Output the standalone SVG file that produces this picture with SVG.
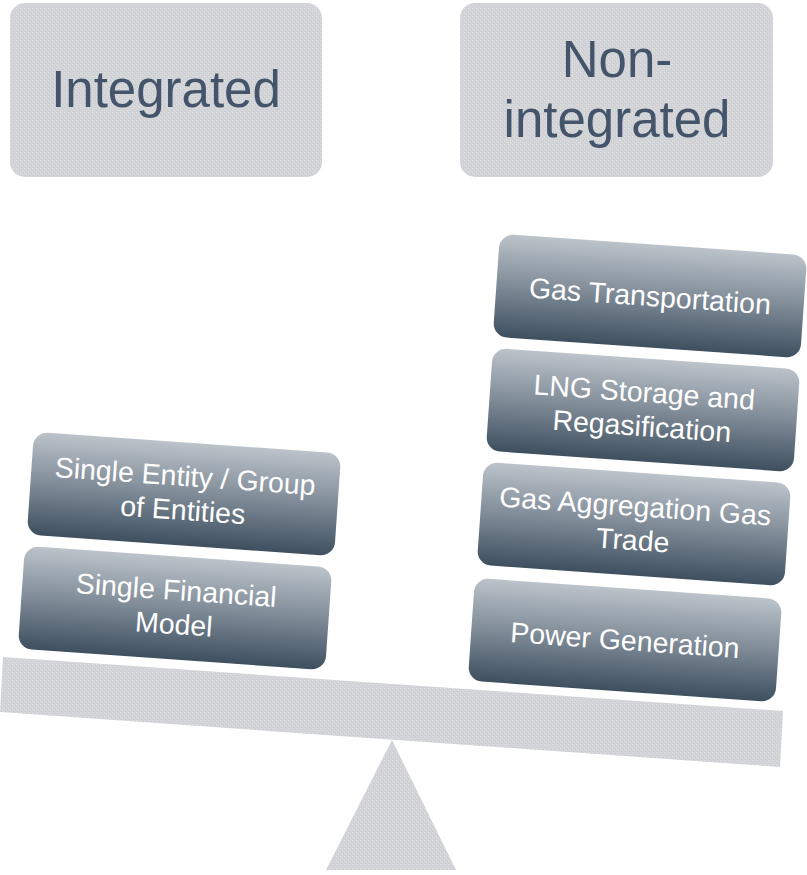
<svg xmlns="http://www.w3.org/2000/svg" width="807" height="875" viewBox="0 0 807 875">
<defs>
  <pattern id="dots" width="4" height="4" patternUnits="userSpaceOnUse">
    <rect width="4" height="4" fill="#d2d4d7"/>
    <rect x="0" y="0" width="1" height="1" fill="#dcdee0"/>
    <rect x="2" y="2" width="1" height="1" fill="#dcdee0"/>
    <rect x="1" y="3" width="1" height="1" fill="#c9cbce"/>
    <rect x="3" y="1" width="1" height="1" fill="#c9cbce"/>
  </pattern>
  <linearGradient id="grad" x1="0" y1="0" x2="0" y2="1">
    <stop offset="0" stop-color="#bcc3ca"/>
    <stop offset="0.5" stop-color="#7f8b97"/>
    <stop offset="1" stop-color="#3e4f5f"/>
  </linearGradient>
</defs>
<style>
  .head { fill: url(#dots); }
  .headtxt { font-family: "Liberation Sans", Arial, sans-serif; font-size: 51px; fill: #44546a; text-anchor: middle; }
  .box { fill: url(#grad); }
  .boxtxt { font-family: "Liberation Sans", Arial, sans-serif; font-size: 28.5px; fill: #ffffff; text-anchor: middle; }
  .scale { fill: url(#dots); }
</style>

<g id="integrated">
  <rect class="head" x="10" y="3" width="312" height="174" rx="15"/>
  <text class="headtxt" x="166" y="107">Integrated</text>
</g>
<g id="non-integrated">
  <rect class="head" x="460" y="3" width="313" height="174" rx="15"/>
  <text class="headtxt" x="617" y="77">Non-</text>
  <text class="headtxt" x="617" y="137">integrated</text>
</g>

<g id="beam">
  <polygon class="scale" points="3,657 783,711 780,767 0,712"/>
</g>
<g id="fulcrum">
  <polygon class="scale" points="392,740 456,870 326,870"/>
</g>

<g id="single-entity" transform="translate(184,494) rotate(4)">
  <rect class="box" x="-154" y="-51.5" width="308" height="103" rx="14"/>
  <text class="boxtxt" x="0" y="-8">Single Entity / Group</text>
  <text class="boxtxt" x="0" y="26">of Entities</text>
</g>
<g id="single-financial-model" transform="translate(175,608) rotate(4)">
  <rect class="box" x="-154" y="-51.5" width="308" height="103" rx="14"/>
  <text class="boxtxt" x="0" y="-8">Single Financial</text>
  <text class="boxtxt" x="0" y="26">Model</text>
</g>

<g id="gas-transportation" transform="translate(650,296) rotate(4)">
  <rect class="box" x="-154" y="-51.5" width="308" height="103" rx="14"/>
  <text class="boxtxt" x="0" y="10">Gas Transportation</text>
</g>
<g id="lng-storage" transform="translate(643,410) rotate(4)">
  <rect class="box" x="-154" y="-51.5" width="308" height="103" rx="14"/>
  <text class="boxtxt" x="0" y="-8">LNG Storage and</text>
  <text class="boxtxt" x="0" y="26">Regasification</text>
</g>
<g id="gas-aggregation" transform="translate(634,524) rotate(4)">
  <rect class="box" x="-154" y="-51.5" width="308" height="103" rx="14"/>
  <text class="boxtxt" x="0" y="-8">Gas Aggregation Gas</text>
  <text class="boxtxt" x="0" y="26">Trade</text>
</g>
<g id="power-generation" transform="translate(625,640) rotate(4)">
  <rect class="box" x="-154" y="-51.5" width="308" height="103" rx="14"/>
  <text class="boxtxt" x="0" y="10">Power Generation</text>
</g>

<g id="connectors"></g>
</svg>
